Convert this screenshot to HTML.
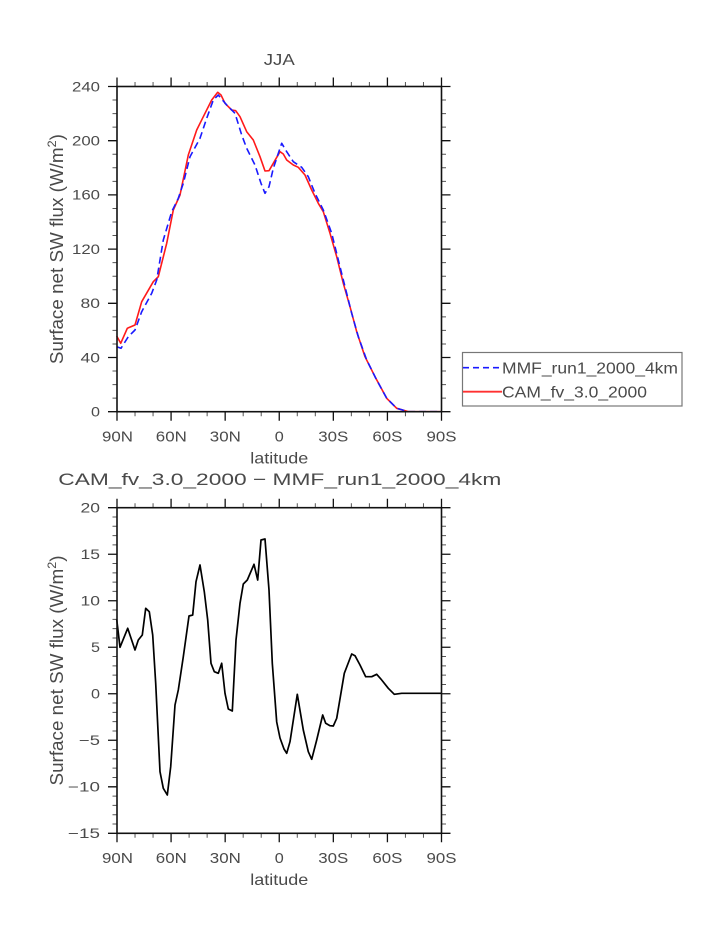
<!DOCTYPE html>
<html><head><meta charset="utf-8"><style>
html,body{margin:0;padding:0;background:#fff;}
svg{display:block;}
text{font-family:"Liberation Sans",sans-serif;fill:#4a4a4a;}
</style></head><body>
<svg width="723" height="935" viewBox="0 0 723 935" xmlns="http://www.w3.org/2000/svg">
<rect width="723" height="935" fill="#fff"/>

<!-- ===== TOP PLOT ===== -->
<text x="279.25" y="65" font-size="16" text-anchor="middle" textLength="31" lengthAdjust="spacingAndGlyphs">JJA</text>

<!-- ticks -->
<g stroke="#111" stroke-width="1.3" fill="none">
<path d="M117 411.7h-9M117 357.5h-9M117 303.3h-9M117 249.1h-9M117 194.9h-9M117 140.7h-9M117 86.5h-9"/>
<path d="M441.5 411.7h9M441.5 357.5h9M441.5 303.3h9M441.5 249.1h9M441.5 194.9h9M441.5 140.7h9M441.5 86.5h9"/>
<path d="M117 86.5v-9M171.08 86.5v-9M225.17 86.5v-9M279.25 86.5v-9M333.33 86.5v-9M387.42 86.5v-9M441.5 86.5v-9"/>
<path d="M117 411.7v9M171.08 411.7v9M225.17 411.7v9M279.25 411.7v9M333.33 411.7v9M387.42 411.7v9M441.5 411.7v9"/>
</g>
<g stroke="#555" stroke-width="1" fill="none">
<path d="M117 398.15h-4.5M117 384.6h-4.5M117 371.05h-4.5M117 343.95h-4.5M117 330.4h-4.5M117 316.85h-4.5M117 289.75h-4.5M117 276.2h-4.5M117 262.65h-4.5M117 235.55h-4.5M117 222h-4.5M117 208.45h-4.5M117 181.35h-4.5M117 167.8h-4.5M117 154.25h-4.5M117 127.15h-4.5M117 113.6h-4.5M117 100.05h-4.5"/>
<path d="M441.5 398.15h4.5M441.5 384.6h4.5M441.5 371.05h4.5M441.5 343.95h4.5M441.5 330.4h4.5M441.5 316.85h4.5M441.5 289.75h4.5M441.5 276.2h4.5M441.5 262.65h4.5M441.5 235.55h4.5M441.5 222h4.5M441.5 208.45h4.5M441.5 181.35h4.5M441.5 167.8h4.5M441.5 154.25h4.5M441.5 127.15h4.5M441.5 113.6h4.5M441.5 100.05h4.5"/>
<path d="M135.03 86.5v-4.5M153.06 86.5v-4.5M189.11 86.5v-4.5M207.14 86.5v-4.5M243.19 86.5v-4.5M261.22 86.5v-4.5M297.28 86.5v-4.5M315.31 86.5v-4.5M351.36 86.5v-4.5M369.39 86.5v-4.5M405.44 86.5v-4.5M423.47 86.5v-4.5"/>
<path d="M135.03 411.7v4.5M153.06 411.7v4.5M189.11 411.7v4.5M207.14 411.7v4.5M243.19 411.7v4.5M261.22 411.7v4.5M297.28 411.7v4.5M315.31 411.7v4.5M351.36 411.7v4.5M369.39 411.7v4.5M405.44 411.7v4.5M423.47 411.7v4.5"/>
</g>

<!-- y tick labels top -->
<g font-size="13.5" text-anchor="end">
<text x="100" y="416.5" textLength="9" lengthAdjust="spacingAndGlyphs">0</text>
<text x="100" y="362.3" textLength="19.5" lengthAdjust="spacingAndGlyphs">40</text>
<text x="100" y="308.1" textLength="19.5" lengthAdjust="spacingAndGlyphs">80</text>
<text x="100" y="253.9" textLength="28" lengthAdjust="spacingAndGlyphs">120</text>
<text x="100" y="199.7" textLength="28" lengthAdjust="spacingAndGlyphs">160</text>
<text x="100" y="145.5" textLength="28" lengthAdjust="spacingAndGlyphs">200</text>
<text x="100" y="91.3" textLength="28" lengthAdjust="spacingAndGlyphs">240</text>
</g>
<!-- x tick labels top -->
<g font-size="15" text-anchor="middle">
<text x="117.5" y="441.4" textLength="31" lengthAdjust="spacingAndGlyphs">90N</text>
<text x="171.3" y="441.4" textLength="31" lengthAdjust="spacingAndGlyphs">60N</text>
<text x="225.3" y="441.4" textLength="31" lengthAdjust="spacingAndGlyphs">30N</text>
<text x="279.3" y="441.4" textLength="9" lengthAdjust="spacingAndGlyphs">0</text>
<text x="333.3" y="441.4" textLength="30" lengthAdjust="spacingAndGlyphs">30S</text>
<text x="387.4" y="441.4" textLength="30" lengthAdjust="spacingAndGlyphs">60S</text>
<text x="441.5" y="441.4" textLength="30" lengthAdjust="spacingAndGlyphs">90S</text>
</g>
<text x="279.25" y="463.4" font-size="16" text-anchor="middle" textLength="58" lengthAdjust="spacingAndGlyphs">latitude</text>
<text transform="translate(63,249.1) rotate(-90)" font-size="18" text-anchor="middle" textLength="230" lengthAdjust="spacingAndGlyphs">Surface net SW flux (W/m<tspan font-size="12" dy="-7">2</tspan><tspan dy="7">)</tspan></text>

<!-- series top -->
<polyline fill="none" stroke="#ff1a1a" stroke-width="1.6" stroke-linejoin="round" points="116.7,336 120.7,343.3 127.3,328.3 135,325 141.7,301.7 153.3,281.7 158.3,276.7 166.7,243.3 173.3,210 180,195 188.3,155 196.7,130 203.3,116.7 211.7,100 217.7,92.3 221,95 225,103.3 231.7,110 235.7,110.7 240,116.7 246.7,131.7 253.3,140 260,156.7 265,171 269,170.7 273.3,163.3 280,151.7 283.3,154 286.7,160 293.3,165 298.3,167.3 305,175 311.7,190 318.3,203.3 323.3,211.7 330,233.3 336.7,256.7 343.3,283.3 350,306.7 356.7,331.7 365,356.7 375,376.7 386.7,398.3 396.7,408.3 408.3,411.7 441.5,411.7"/>
<polyline fill="none" stroke="#1a1aff" stroke-width="1.6" stroke-dasharray="7,4" stroke-linejoin="round" points="116.7,346.7 121,348.3 128.3,336.7 135,330 141.7,311.7 151.7,293.3 156.7,280 163.3,240 171.7,211.7 178.3,198.3 183.3,183.3 190,156.7 200,138.3 206.7,118.3 213.3,100 218.3,95 226.7,105 235,113.3 241.7,135 246.7,148.3 255,165 261,183.3 265,193.3 269,186.7 273.3,168.3 281.7,143.3 286.7,151.7 293.3,161.7 301.7,167.3 308.3,176.7 315,193.3 323.3,210 331.7,233.3 338.3,260 345,286.7 351.7,313.3 358.3,336.7 366.7,360 376.7,380 386.7,398.3 396.7,408.3 408.3,411.7 441.5,411.7"/>

<!-- frame top -->
<rect x="117" y="86.5" width="324.5" height="325.2" fill="none" stroke="#111" stroke-width="1.6"/>

<!-- legend -->
<rect x="462.5" y="352.5" width="219.5" height="53.5" fill="#fff" stroke="#777" stroke-width="1.2"/>
<line x1="463" y1="367.7" x2="502" y2="367.7" stroke="#1a1aff" stroke-width="1.6" stroke-dasharray="6,4"/>
<line x1="463" y1="391.7" x2="502" y2="391.7" stroke="#ff3030" stroke-width="1.8"/>
<text x="502" y="373.5" font-size="16" textLength="176" lengthAdjust="spacingAndGlyphs">MMF_run1_2000_4km</text>
<text x="502" y="397.5" font-size="16" textLength="145" lengthAdjust="spacingAndGlyphs">CAM_fv_3.0_2000</text>

<!-- ===== BOTTOM PLOT ===== -->
<text x="58.3" y="485" font-size="17" textLength="443" lengthAdjust="spacingAndGlyphs">CAM_fv_3.0_2000 − MMF_run1_2000_4km</text>

<g stroke="#111" stroke-width="1.3" fill="none">
<path d="M117 507.7h-9M117 554.22h-9M117 600.73h-9M117 647.25h-9M117 693.76h-9M117 740.28h-9M117 786.79h-9M117 833.3h-9"/>
<path d="M441.5 507.7h9M441.5 554.22h9M441.5 600.73h9M441.5 647.25h9M441.5 693.76h9M441.5 740.28h9M441.5 786.79h9M441.5 833.3h9"/>
<path d="M117 507.7v-9M171.08 507.7v-9M225.17 507.7v-9M279.25 507.7v-9M333.33 507.7v-9M387.42 507.7v-9M441.5 507.7v-9"/>
<path d="M117 833.3v9M171.08 833.3v9M225.17 833.3v9M279.25 833.3v9M333.33 833.3v9M387.42 833.3v9M441.5 833.3v9"/>
</g>
<g stroke="#555" stroke-width="1" fill="none">
<path d="M117 517h-4.5M117 526.31h-4.5M117 535.61h-4.5M117 544.91h-4.5M117 563.52h-4.5M117 572.82h-4.5M117 582.12h-4.5M117 591.43h-4.5M117 610.03h-4.5M117 619.34h-4.5M117 628.64h-4.5M117 637.94h-4.5M117 656.55h-4.5M117 665.85h-4.5M117 675.15h-4.5M117 684.46h-4.5M117 703.06h-4.5M117 712.37h-4.5M117 721.67h-4.5M117 730.97h-4.5M117 749.58h-4.5M117 758.88h-4.5M117 768.18h-4.5M117 777.49h-4.5M117 796.09h-4.5M117 805.4h-4.5M117 814.7h-4.5M117 824h-4.5"/>
<path d="M441.5 517h4.5M441.5 526.31h4.5M441.5 535.61h4.5M441.5 544.91h4.5M441.5 563.52h4.5M441.5 572.82h4.5M441.5 582.12h4.5M441.5 591.43h4.5M441.5 610.03h4.5M441.5 619.34h4.5M441.5 628.64h4.5M441.5 637.94h4.5M441.5 656.55h4.5M441.5 665.85h4.5M441.5 675.15h4.5M441.5 684.46h4.5M441.5 703.06h4.5M441.5 712.37h4.5M441.5 721.67h4.5M441.5 730.97h4.5M441.5 749.58h4.5M441.5 758.88h4.5M441.5 768.18h4.5M441.5 777.49h4.5M441.5 796.09h4.5M441.5 805.4h4.5M441.5 814.7h4.5M441.5 824h4.5"/>
<path d="M135.03 507.7v-4.5M153.06 507.7v-4.5M189.11 507.7v-4.5M207.14 507.7v-4.5M243.19 507.7v-4.5M261.22 507.7v-4.5M297.28 507.7v-4.5M315.31 507.7v-4.5M351.36 507.7v-4.5M369.39 507.7v-4.5M405.44 507.7v-4.5M423.47 507.7v-4.5"/>
<path d="M135.03 833.3v4.5M153.06 833.3v4.5M189.11 833.3v4.5M207.14 833.3v4.5M243.19 833.3v4.5M261.22 833.3v4.5M297.28 833.3v4.5M315.31 833.3v4.5M351.36 833.3v4.5M369.39 833.3v4.5M405.44 833.3v4.5M423.47 833.3v4.5"/>
</g>

<g font-size="13.5" text-anchor="end">
<text x="100" y="512.5" textLength="19.5" lengthAdjust="spacingAndGlyphs">20</text>
<text x="100" y="559" textLength="19.5" lengthAdjust="spacingAndGlyphs">15</text>
<text x="100" y="605.5" textLength="19.5" lengthAdjust="spacingAndGlyphs">10</text>
<text x="100" y="652" textLength="9" lengthAdjust="spacingAndGlyphs">5</text>
<text x="100" y="698.5" textLength="9" lengthAdjust="spacingAndGlyphs">0</text>
<text x="100" y="745" textLength="21" lengthAdjust="spacingAndGlyphs">−5</text>
<text x="100" y="791.5" textLength="32" lengthAdjust="spacingAndGlyphs">−10</text>
<text x="100" y="838" textLength="32" lengthAdjust="spacingAndGlyphs">−15</text>
</g>
<g font-size="15" text-anchor="middle">
<text x="117.5" y="863" textLength="31" lengthAdjust="spacingAndGlyphs">90N</text>
<text x="171.3" y="863" textLength="31" lengthAdjust="spacingAndGlyphs">60N</text>
<text x="225.3" y="863" textLength="31" lengthAdjust="spacingAndGlyphs">30N</text>
<text x="279.3" y="863" textLength="9" lengthAdjust="spacingAndGlyphs">0</text>
<text x="333.3" y="863" textLength="30" lengthAdjust="spacingAndGlyphs">30S</text>
<text x="387.4" y="863" textLength="30" lengthAdjust="spacingAndGlyphs">60S</text>
<text x="441.5" y="863" textLength="30" lengthAdjust="spacingAndGlyphs">90S</text>
</g>
<text x="279.25" y="885" font-size="16" text-anchor="middle" textLength="58" lengthAdjust="spacingAndGlyphs">latitude</text>
<text transform="translate(63,670.5) rotate(-90)" font-size="18" text-anchor="middle" textLength="230" lengthAdjust="spacingAndGlyphs">Surface net SW flux (W/m<tspan font-size="12" dy="-7">2</tspan><tspan dy="7">)</tspan></text>

<polyline fill="none" stroke="#000" stroke-width="1.7" stroke-linejoin="round" points="116.7,619.3 120,647.3 127.7,628.3 135,650 138.3,640 142.3,635 145.7,608.3 149.3,611.7 152.7,635 155.7,683.3 160,771.7 163.3,788.3 167.3,795 170.7,766.7 175,705 178.3,690 183.3,656.7 189,616 192.7,615 196,581.7 200,565 204.3,591.7 207.7,620 211,663.3 214.3,671.7 218.3,673.3 221.7,663.3 225,693.3 228.3,709 232.3,711 236,640 240,603.3 243.3,584 247.3,580 254,564.3 257.7,580 261,540 265,539 269,590 272.3,663.3 276.7,722 280,738 284,749 286.7,753.3 290,741.7 297.3,694.3 303.3,730 308.3,751.7 311.7,759.3 316.7,740 322.7,715 325.7,723.3 330,725.7 333.3,726 336.7,718.3 344.3,673.3 351.7,654 355,655.7 360,665 365.7,676.7 371.7,676.7 376.7,674.3 381.7,680 388.3,688.3 394.3,694.3 401.7,693.3 441.5,693.3"/>

<rect x="117" y="507.7" width="324.5" height="325.6" fill="none" stroke="#111" stroke-width="1.6"/>
</svg>
</body></html>
